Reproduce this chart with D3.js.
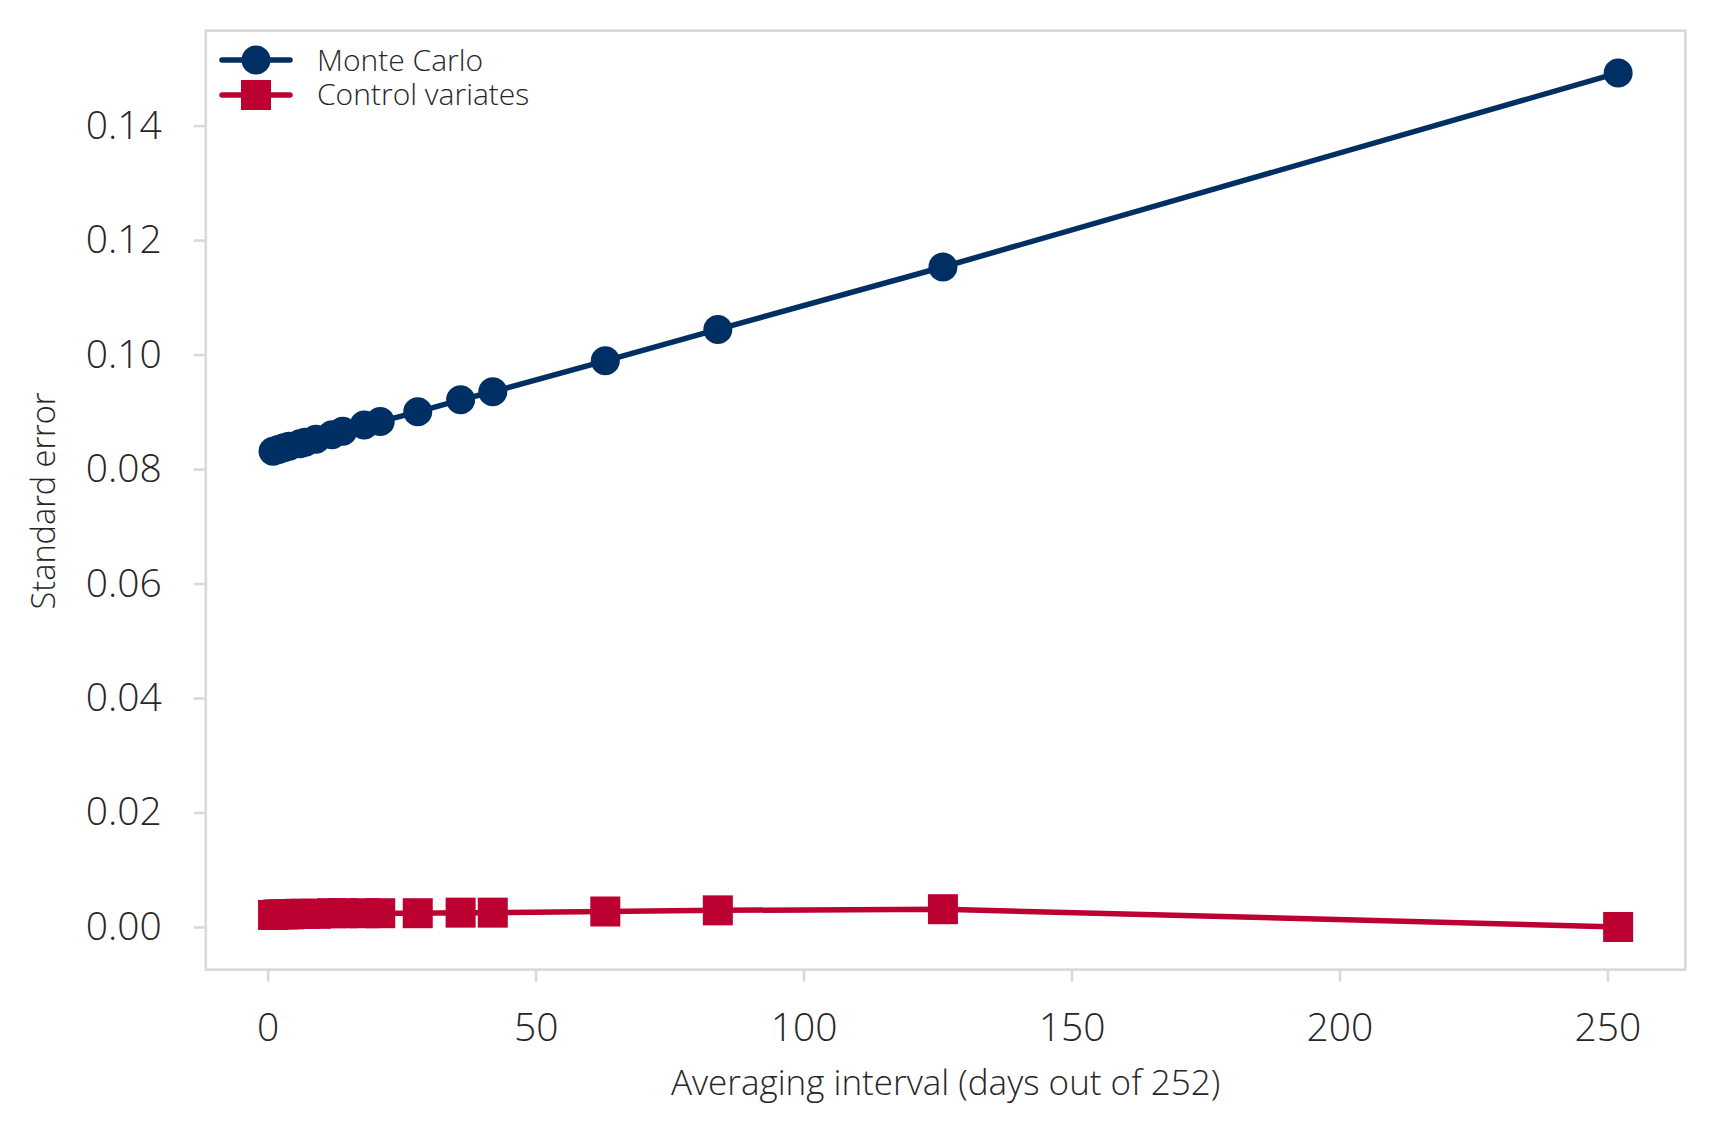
<!DOCTYPE html>
<html><head><meta charset="utf-8">
<script src="https://cdn.jsdelivr.net/npm/d3@7"></script>
<style>
html,body{margin:0;padding:0;background:#fff;}
svg{display:block;font-family:"Open Sans","Noto Sans",sans-serif;}
</style></head>
<body>
<svg id="c" width="1716" height="1134"></svg>
<script>
const intervals = [1,2,3,4,6,7,9,12,14,18,21,28,36,42,63,84,126,252];
const monteCarlo = [0.0831,0.0834,0.0837,0.0840,0.0844,0.0847,0.0852,0.0860,0.0866,0.0877,0.0883,0.0900,0.0921,0.0935,0.0989,0.1044,0.1153,0.1492];
const controlVariates = [0.0021,0.0022,0.0022,0.0022,0.0023,0.0023,0.0023,0.0024,0.0024,0.0024,0.0024,0.0024,0.0025,0.0025,0.0027,0.0029,0.0031,0.0000];
const xTicks = [0,50,100,150,200,250];
const yTicks = [0,0.02,0.04,0.06,0.08,0.10,0.12,0.14];
const seriesNames = ["Monte Carlo","Control variates"];

const FONT = '"Open Sans","Noto Sans",sans-serif';
const navy = "#002f63", red = "#bc0031", grid = "#d9d9d9", txt = "#262626";
const L = 205.8, R = 1685.4, T = 30.6, B = 969.6;
const svg = d3.select("#c");

const x = d3.scaleLinear().domain([-11.55, 264.55]).range([L, R]);
const y = d3.scaleLinear().domain([-0.00745, 0.1566]).range([B, T]);

// frame
svg.append("rect").attr("x",L).attr("y",T).attr("width",R-L).attr("height",B-T)
  .attr("fill","none").attr("stroke",grid).attr("stroke-width",2.6);

// axes
const gx = svg.append("g").attr("transform",`translate(0,${B})`)
  .call(d3.axisBottom(x).tickValues(xTicks).tickFormat(d3.format("d")).tickSize(12).tickPadding(32));
const gy = svg.append("g").attr("transform",`translate(${L},0)`)
  .call(d3.axisLeft(y).tickValues(yTicks).tickFormat(d3.format(".2f")).tickSize(12).tickPadding(32));
[gx,gy].forEach(g=>{
  g.attr("font-family",FONT).attr("font-size",null);
  g.select(".domain").remove();
  g.selectAll(".tick line").attr("stroke",grid).attr("stroke-width",2.6);
  g.selectAll(".tick text").attr("fill",txt).style("font-family",FONT).style("font-size","39px").style("font-weight",300);
});

// lines
const mcData = intervals.map((d,i)=>[d,monteCarlo[i]]);
const cvData = intervals.map((d,i)=>[d,controlVariates[i]]);
const line = d3.line().x(d=>x(d[0])).y(d=>y(d[1]));
svg.append("path").datum(mcData).attr("d",line).attr("fill","none").attr("stroke",navy).attr("stroke-width",5.5).attr("stroke-linecap","round");
svg.append("path").datum(cvData).attr("d",line).attr("fill","none").attr("stroke",red).attr("stroke-width",5.5).attr("stroke-linecap","round");

svg.append("g").selectAll("circle").data(mcData).join("circle")
  .attr("cx",d=>x(d[0])).attr("cy",d=>y(d[1])).attr("r",14.5).attr("fill",navy);
const s = 30;
svg.append("g").selectAll("rect").data(cvData).join("rect")
  .attr("x",d=>x(d[0])-s/2).attr("y",d=>y(d[1])-s/2).attr("width",s).attr("height",s).attr("fill",red);

// axis labels
svg.append("text").attr("x",(L+R)/2).attr("y",1095).attr("text-anchor","middle")
  .attr("fill",txt).style("font-size","35px").style("font-weight",300).text("Averaging interval (days out of 252)");
svg.append("text").attr("transform","translate(55,501) rotate(-90)").attr("text-anchor","middle")
  .attr("fill",txt).style("font-size","32.5px").style("font-weight",300).text("Standard error");

// legend
const lg = svg.append("g");
const rows = [{name:seriesNames[0],c:navy,shape:"circle",y:60,base:70.5},{name:seriesNames[1],c:red,shape:"square",y:95,base:105}];
rows.forEach(r=>{
  lg.append("line").attr("x1",222).attr("x2",290).attr("y1",r.y).attr("y2",r.y).attr("stroke",r.c).attr("stroke-width",5.5).attr("stroke-linecap","round");
  if(r.shape==="circle") lg.append("circle").attr("cx",256).attr("cy",r.y).attr("r",14.5).attr("fill",r.c);
  else lg.append("rect").attr("x",256-s/2).attr("y",r.y-s/2).attr("width",s).attr("height",s).attr("fill",r.c);
  lg.append("text").attr("x",317).attr("y",r.base).attr("fill",txt).style("font-size","30px").style("font-weight",300).text(r.name);
});
</script>
</body></html>
